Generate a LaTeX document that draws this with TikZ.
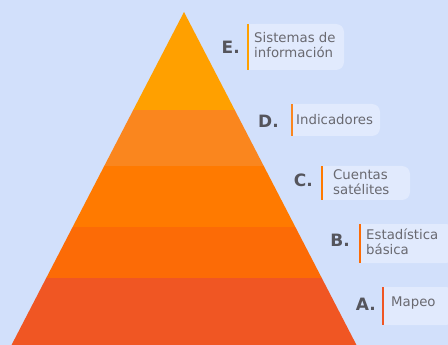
\documentclass[tikz,border=0pt]{standalone}
\usepackage{fontspec}
\setmainfont{DejaVu Sans}
\definecolor{bg}{RGB}{210,224,251}
\definecolor{boxfill}{RGB}{225,234,253}
\definecolor{cE}{RGB}{255,160,0}
\definecolor{cD}{RGB}{250,134,30}
\definecolor{cC}{RGB}{255,122,0}
\definecolor{cB}{RGB}{252,107,6}
\definecolor{cA}{RGB}{240,86,35}
\definecolor{txt}{RGB}{105,105,112}
\definecolor{lett}{RGB}{85,85,92}
\tikzset{
  labtext/.style={anchor=west, align=left, inner sep=0pt, text=txt, font=\fontsize{13.3}{14.5}\selectfont},
  letter/.style={anchor=east, inner sep=0pt, text=lett, font=\fontsize{17}{17}\selectfont\bfseries},
}
\newcommand{\labbox}[6]{% x1,y1,x2,y2,color
  \fill[boxfill, rounded corners=8pt] (#1,#2) rectangle (#3,#4);
  \fill[boxfill] (#1,#2) rectangle (#1+10,#4);
  \fill[#5] (#1-1,#2) rectangle (#1+1,#4);
}
\begin{document}
\begin{tikzpicture}[x=1pt,y=-1pt]
\fill[bg] (0,0) rectangle (448,345);
\useasboundingbox (0,0) rectangle (448,345);
\begin{scope}
  \clip (184,12) -- (357,346) -- (11,346) -- cycle;
  \fill[cE] (0,0) rectangle (448,110);
  \fill[cD] (0,110) rectangle (448,166);
  \fill[cC] (0,166) rectangle (448,227);
  \fill[cB] (0,227) rectangle (448,278);
  \fill[cA] (0,278) rectangle (448,346);
\end{scope}
% E
\labbox{248}{24}{344}{70}{cE}{}
\node[labtext] (tE) at (254,45) {Sistemas de\\información};
\node[letter] (lE) at (240,47) {E.};
% D
\labbox{292}{104}{380}{136}{cD}{}
\node[labtext] (tD) at (296,120) {Indicadores};
\node[letter] (lD) at (279,121) {D.};
% C
\labbox{322}{166}{410}{200}{cC}{}
\node[labtext] (tC) at (333,182) {Cuentas\\satélites};
\node[letter] (lC) at (313,180) {C.};
% B
\labbox{360}{224}{454}{263}{cB}{}
\node[labtext] (tB) at (366,242) {Estadística\\básica};
\node[letter] (lB) at (350,240) {B.};
% A
\labbox{383}{287}{454}{325}{cA}{}
\node[labtext] (tA) at (391,303) {Mapeo};
\node[letter] (lA) at (376,304) {A.};
\end{tikzpicture}
\end{document}
